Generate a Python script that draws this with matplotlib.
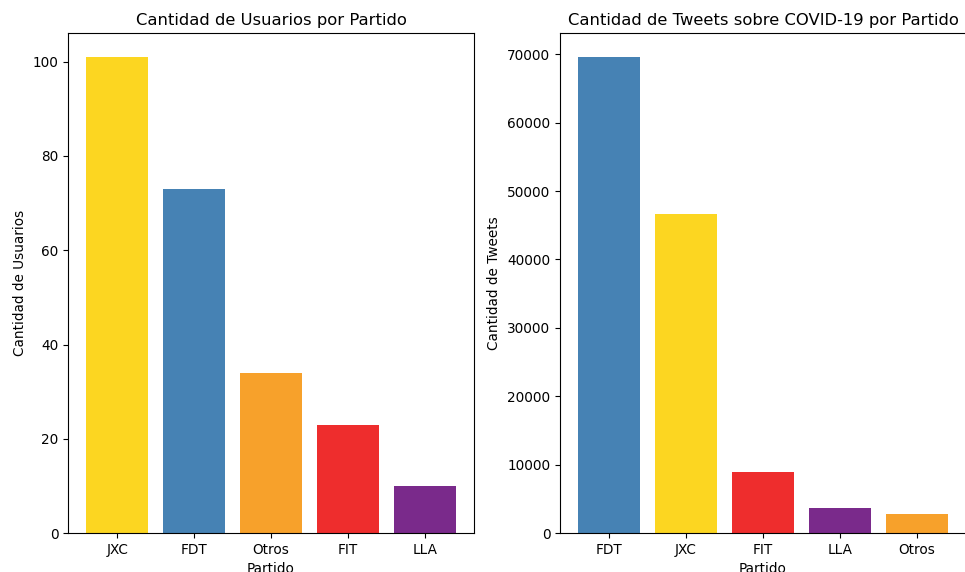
import matplotlib
matplotlib.use("Agg")
import matplotlib.pyplot as plt

plt.rcParams['font.family'] = ['DejaVu Sans']

partidos_usuarios = ["JXC", "FDT", "Otros", "FIT", "LLA"]
usuarios = [101, 73, 34, 23, 10]

partidos_tweets = ["FDT", "JXC", "FIT", "LLA", "Otros"]
tweets = [69600, 46700, 8900, 3700, 2800]

colores = {"JXC": "#FCD621", "FDT": "#4682B4", "Otros": "#F7A12B",
           "FIT": "#EE2D2D", "LLA": "#7A2A8B"}

fs_title = 11.8
fs = 9.8

fig = plt.figure(figsize=(9.65, 5.72), dpi=100)
ax1 = fig.add_axes([0.0705, 0.068, 0.4207, 0.874])
ax2 = fig.add_axes([0.5803, 0.068, 0.4207, 0.874])

ax1.bar(partidos_usuarios, usuarios, color=[colores[p] for p in partidos_usuarios])
ax1.set_title("Cantidad de Usuarios por Partido", fontsize=fs_title)
ax1.set_ylabel("Cantidad de Usuarios", fontsize=fs)
ax1.set_xlabel("Partido", fontsize=fs)
ax1.tick_params(labelsize=fs)

ax2.bar(partidos_tweets, tweets, color=[colores[p] for p in partidos_tweets])
ax2.set_title("Cantidad de Tweets sobre COVID-19 por Partido", fontsize=fs_title)
ax2.set_ylabel("Cantidad de Tweets", fontsize=fs)
ax2.set_xlabel("Partido", fontsize=fs)
ax2.tick_params(labelsize=fs)

fig.savefig("out.png", dpi=100)
